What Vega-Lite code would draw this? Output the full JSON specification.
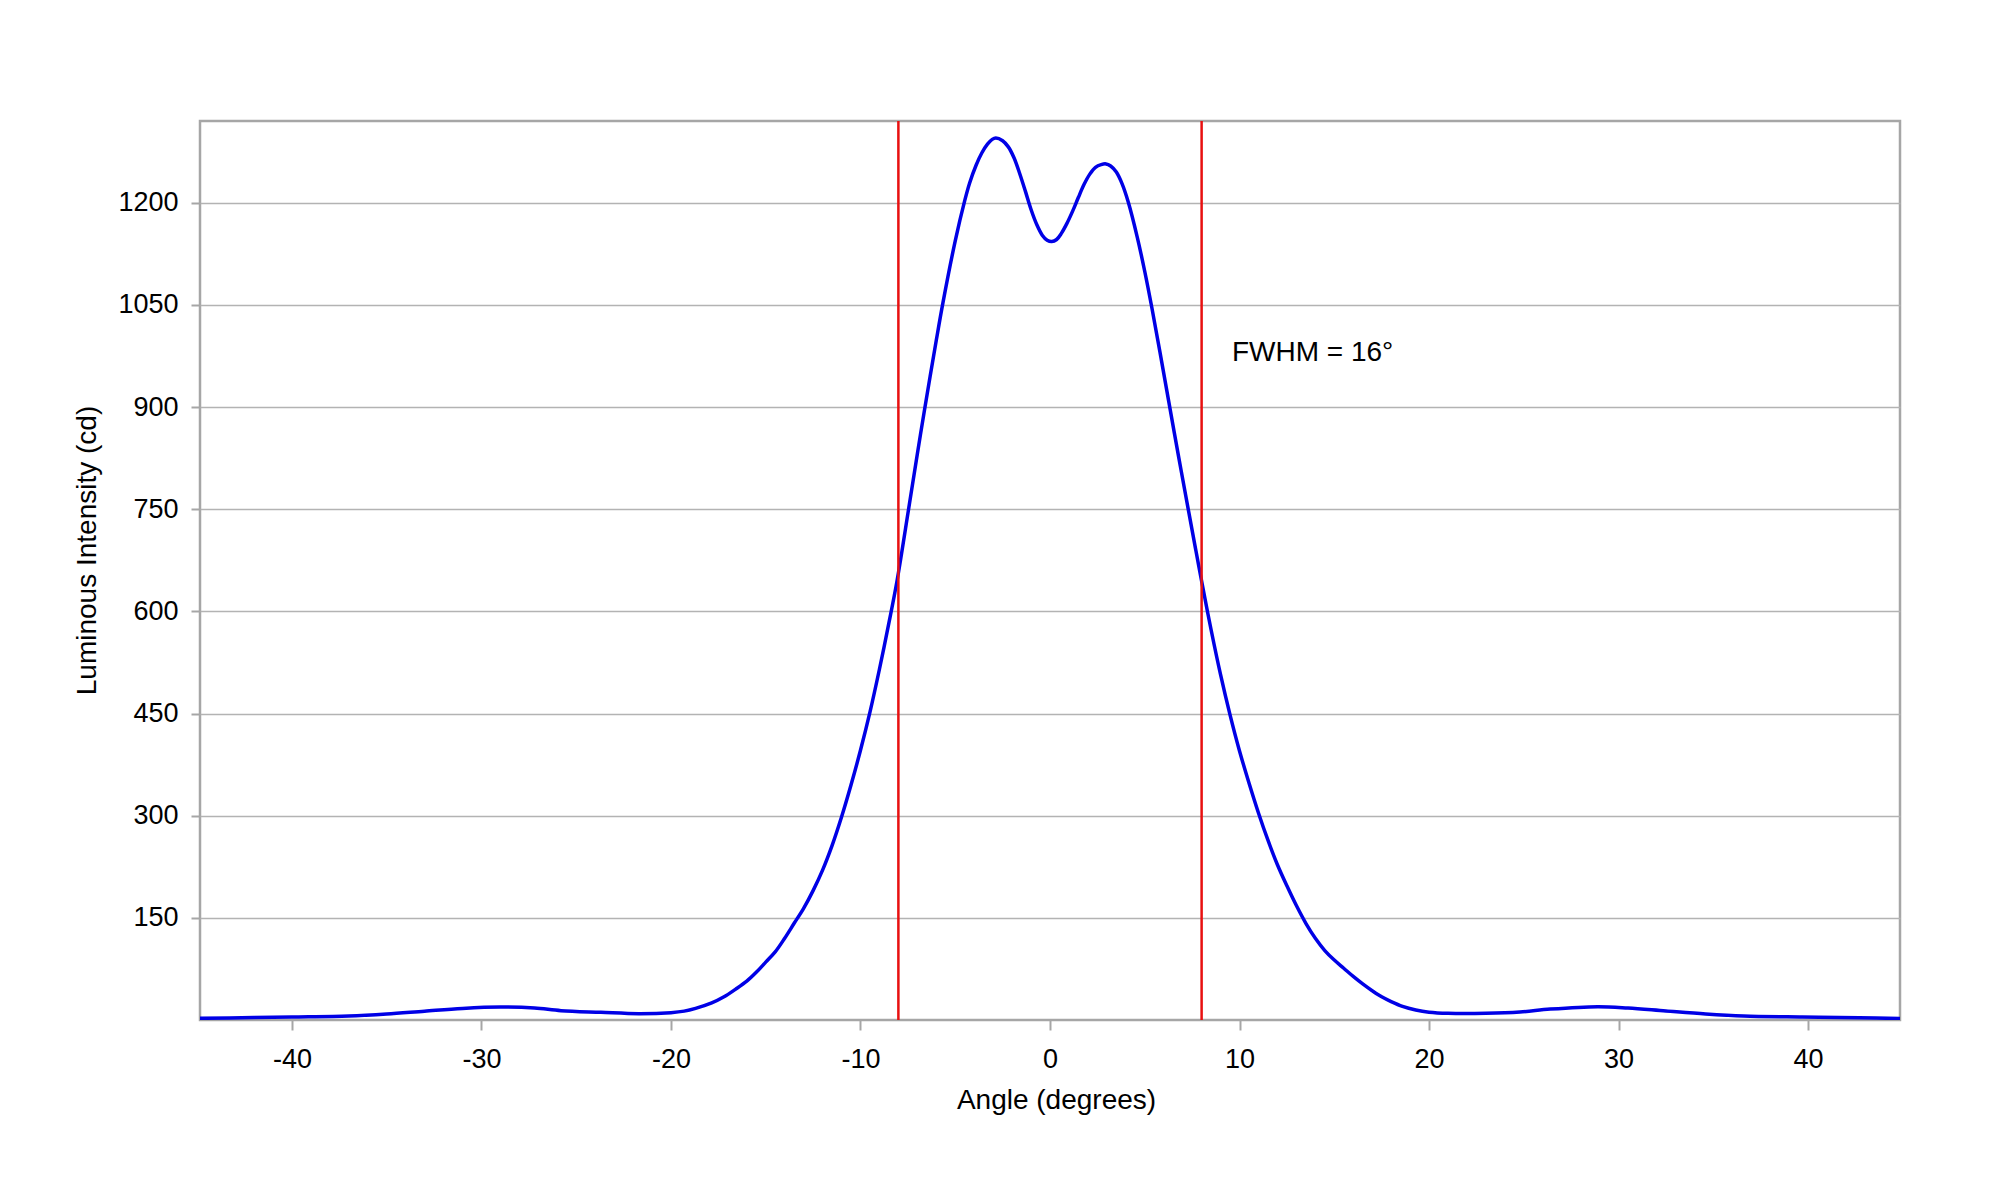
{
  "$schema": "https://vega.github.io/schema/vega-lite/v6.json",
  "width": 1700,
  "height": 899,
  "autosize": {"type": "none"},
  "padding": {"left": 200, "top": 121, "right": 100, "bottom": 180},
  "background": "white",
  "config": {
    "view": {"stroke": "#a6a6a6", "strokeWidth": 2.5},
    "font": "Liberation Sans",
    "axis": {
      "domain": false,
      "tickColor": "#a6a6a6",
      "tickWidth": 2,
      "labelFont": "Liberation Sans",
      "labelFontSize": 27,
      "labelColor": "#000000",
      "labelExpr": "'' + datum.value",
      "titleFont": "Liberation Sans",
      "titleFontSize": 28,
      "titleFontWeight": "normal",
      "titleColor": "#000000"
    }
  },
  "layer": [
    {
      "data": {
        "values": [
          {"angle": -45, "intensity": 2.4},
          {"angle": -42, "intensity": 3.5},
          {"angle": -40, "intensity": 4.4},
          {"angle": -37, "intensity": 5.9},
          {"angle": -35, "intensity": 8.8},
          {"angle": -33, "intensity": 13},
          {"angle": -31, "intensity": 17},
          {"angle": -29, "intensity": 19},
          {"angle": -27.2, "intensity": 17.6},
          {"angle": -25.8, "intensity": 13.7},
          {"angle": -23.7, "intensity": 11.3},
          {"angle": -21.7, "intensity": 9.3},
          {"angle": -20, "intensity": 10.8},
          {"angle": -19.3, "intensity": 13},
          {"angle": -18.7, "intensity": 17},
          {"angle": -17.85, "intensity": 25},
          {"angle": -17.2, "intensity": 34},
          {"angle": -16.6, "intensity": 45},
          {"angle": -16.0, "intensity": 57},
          {"angle": -15.5, "intensity": 70},
          {"angle": -15.0, "intensity": 85},
          {"angle": -14.5, "intensity": 100},
          {"angle": -14.0, "intensity": 120},
          {"angle": -13.5, "intensity": 142},
          {"angle": -13.0, "intensity": 164},
          {"angle": -12.5, "intensity": 190},
          {"angle": -12.0, "intensity": 220},
          {"angle": -11.5, "intensity": 256},
          {"angle": -11.0, "intensity": 298},
          {"angle": -10.5, "intensity": 345},
          {"angle": -10.0, "intensity": 396},
          {"angle": -9.5, "intensity": 452},
          {"angle": -9.0, "intensity": 515},
          {"angle": -8.5, "intensity": 583},
          {"angle": -8.07, "intensity": 645},
          {"angle": -7.45, "intensity": 752},
          {"angle": -7.0, "intensity": 831},
          {"angle": -6.62, "intensity": 896},
          {"angle": -6.0, "intensity": 998},
          {"angle": -5.65, "intensity": 1053},
          {"angle": -5.0, "intensity": 1144},
          {"angle": -4.5, "intensity": 1203},
          {"angle": -4.24, "intensity": 1229},
          {"angle": -3.9, "intensity": 1255},
          {"angle": -3.6, "intensity": 1273},
          {"angle": -3.3, "intensity": 1286},
          {"angle": -3.05, "intensity": 1293},
          {"angle": -2.86, "intensity": 1295},
          {"angle": -2.5, "intensity": 1291},
          {"angle": -2.2, "intensity": 1282},
          {"angle": -1.9, "intensity": 1266},
          {"angle": -1.6, "intensity": 1243},
          {"angle": -1.3, "intensity": 1217},
          {"angle": -1.0, "intensity": 1190},
          {"angle": -0.7, "intensity": 1168},
          {"angle": -0.4, "intensity": 1152},
          {"angle": -0.15, "intensity": 1145},
          {"angle": 0.09, "intensity": 1143},
          {"angle": 0.35, "intensity": 1146},
          {"angle": 0.6, "intensity": 1155},
          {"angle": 0.9, "intensity": 1170},
          {"angle": 1.2, "intensity": 1188},
          {"angle": 1.5, "intensity": 1208},
          {"angle": 1.8, "intensity": 1227},
          {"angle": 2.1, "intensity": 1242},
          {"angle": 2.4, "intensity": 1252},
          {"angle": 2.7, "intensity": 1256},
          {"angle": 2.95, "intensity": 1257},
          {"angle": 3.2, "intensity": 1254},
          {"angle": 3.5, "intensity": 1245},
          {"angle": 3.8, "intensity": 1228},
          {"angle": 4.14, "intensity": 1200},
          {"angle": 4.6, "intensity": 1150},
          {"angle": 5.0, "intensity": 1099},
          {"angle": 5.38, "intensity": 1045},
          {"angle": 5.8, "intensity": 981},
          {"angle": 6.26, "intensity": 909},
          {"angle": 6.8, "intensity": 825},
          {"angle": 7.32, "intensity": 746},
          {"angle": 7.7, "intensity": 689},
          {"angle": 8.03, "intensity": 640},
          {"angle": 8.5, "intensity": 573},
          {"angle": 9.0, "intensity": 507},
          {"angle": 9.5, "intensity": 448},
          {"angle": 10.0, "intensity": 395},
          {"angle": 10.5, "intensity": 348},
          {"angle": 11.0, "intensity": 304},
          {"angle": 11.5, "intensity": 264},
          {"angle": 12.0, "intensity": 228},
          {"angle": 12.5, "intensity": 197},
          {"angle": 13.0, "intensity": 168},
          {"angle": 13.5, "intensity": 142},
          {"angle": 14.0, "intensity": 120},
          {"angle": 14.5, "intensity": 102},
          {"angle": 15.0, "intensity": 88},
          {"angle": 15.5, "intensity": 76},
          {"angle": 16.0, "intensity": 64},
          {"angle": 16.5, "intensity": 53},
          {"angle": 17.0, "intensity": 43},
          {"angle": 17.5, "intensity": 34},
          {"angle": 18.0, "intensity": 27},
          {"angle": 18.6, "intensity": 20},
          {"angle": 19.3, "intensity": 14.7},
          {"angle": 20, "intensity": 11.5},
          {"angle": 21, "intensity": 9.8},
          {"angle": 23, "intensity": 9.8},
          {"angle": 24.8, "intensity": 11.7},
          {"angle": 26.4, "intensity": 16},
          {"angle": 28.9, "intensity": 19.6},
          {"angle": 30.5, "intensity": 17.6},
          {"angle": 32.5, "intensity": 13.2},
          {"angle": 34.6, "intensity": 8.8},
          {"angle": 36.6, "intensity": 5.9},
          {"angle": 39.7, "intensity": 4.4},
          {"angle": 42.7, "intensity": 3.4},
          {"angle": 45, "intensity": 2}
        ]
      },
      "mark": {"type": "line", "color": "#0000e6", "strokeWidth": 3.5, "interpolate": "catmull-rom", "clip": true},
      "encoding": {
        "x": {
          "field": "angle",
          "type": "quantitative",
          "title": "Angle (degrees)",
          "scale": {"domain": [-44.85, 44.85], "nice": false, "zero": false},
          "axis": {
            "values": [-40, -30, -20, -10, 0, 10, 20, 30, 40],
            "grid": false,
            "tickSize": 10,
            "labelPadding": 16,
            "titleX": 856,
            "titleY": 88,
            "titleBaseline": "alphabetic"
          }
        },
        "y": {
          "field": "intensity",
          "type": "quantitative",
          "title": "Luminous Intensity (cd)",
          "scale": {"domain": [0, 1320], "nice": false},
          "axis": {
            "values": [150, 300, 450, 600, 750, 900, 1050, 1200],
            "grid": true,
            "gridColor": "#b3b3b3",
            "gridWidth": 1.5,
            "tickSize": 9,
            "labelPadding": 13,
            "titleX": -105,
            "titleY": 429,
            "titleAngle": 270,
            "titleAlign": "center",
            "titleBaseline": "alphabetic"
          }
        }
      }
    },
    {
      "data": {"values": [{"angle": -8}, {"angle": 8}]},
      "mark": {"type": "rule", "color": "#e81010", "strokeWidth": 2.5},
      "encoding": {
        "x": {"field": "angle", "type": "quantitative"}
      }
    },
    {
      "data": {"values": [{}]},
      "mark": {
        "type": "text",
        "text": "FWHM = 16°",
        "align": "left",
        "baseline": "middle",
        "font": "Liberation Sans",
        "fontSize": 28,
        "color": "#000000"
      },
      "encoding": {
        "x": {"datum": 9.6},
        "y": {"datum": 980}
      }
    }
  ]
}
